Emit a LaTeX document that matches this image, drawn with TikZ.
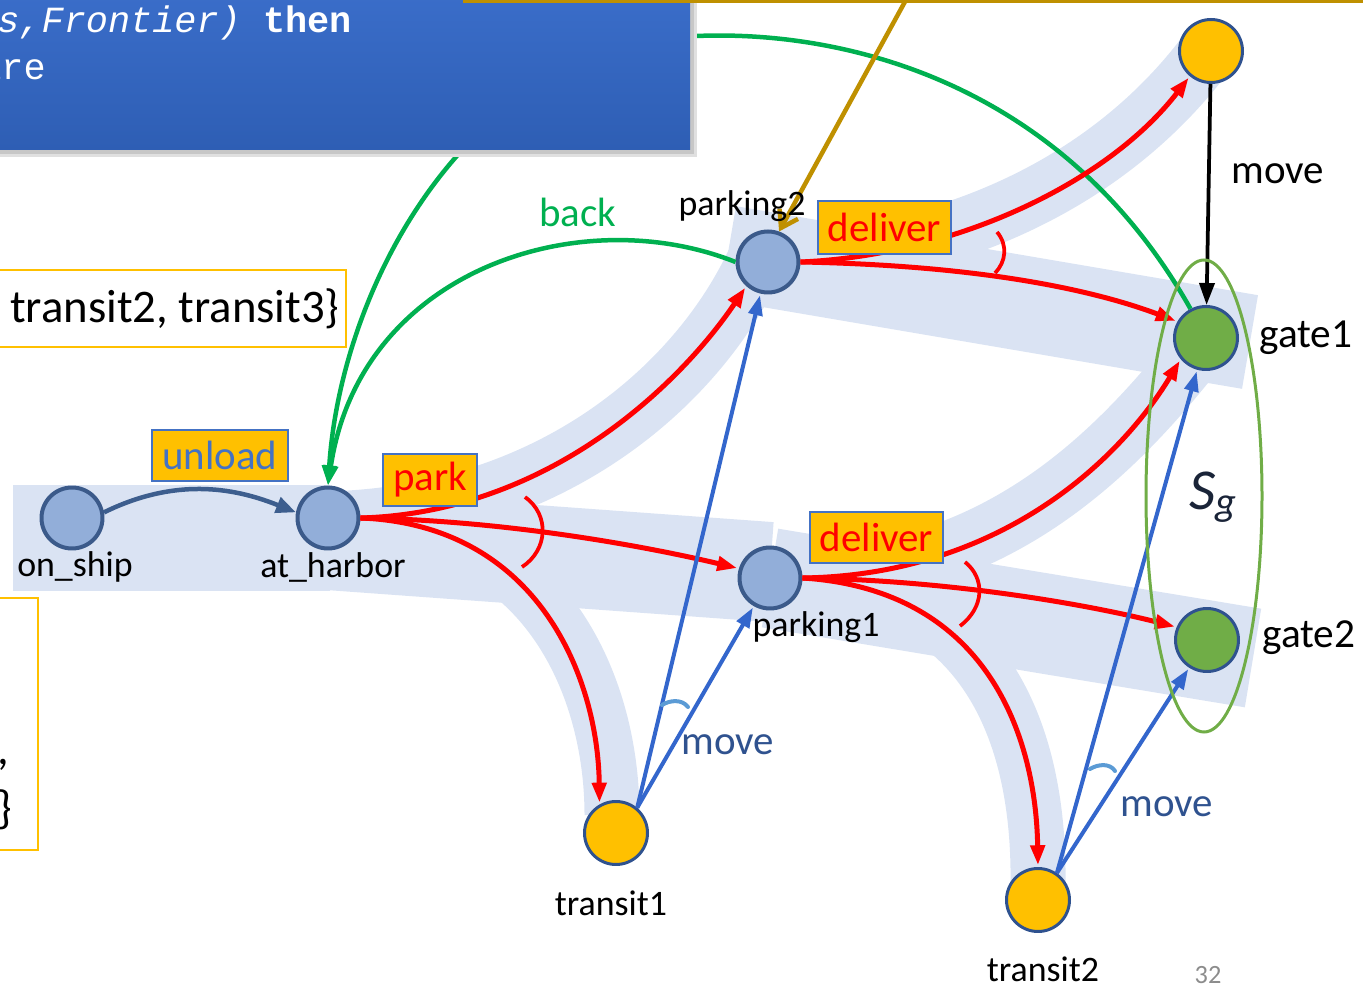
\documentclass[tikz,border=0pt]{standalone}
\usepackage{fontspec}
\setmainfont{Carlito}
\newfontfamily\monof{Liberation Mono}
\usetikzlibrary{arrows.meta}
\definecolor{bandc}{HTML}{DAE3F3}
\definecolor{nfill}{HTML}{92AED9}
\definecolor{nbord}{HTML}{3B5A8A}
\definecolor{nbord2}{HTML}{2F528F}
\definecolor{yel}{HTML}{FFC000}
\definecolor{ngreen}{HTML}{70AD47}
\definecolor{redc}{HTML}{FF0000}
\definecolor{bluec}{HTML}{3366CC}
\definecolor{arcblue}{HTML}{5B9BD5}
\definecolor{unlc}{HTML}{3D5E8E}
\definecolor{actb}{HTML}{4472C4}
\definecolor{movec}{HTML}{2F528F}
\definecolor{greenc}{HTML}{00B050}
\definecolor{goldc}{HTML}{BF9000}
\definecolor{boxtop}{HTML}{3A6DC9}
\definecolor{boxbot}{HTML}{2E5EB4}
\definecolor{pagec}{HTML}{8C8C8C}
\definecolor{sgc}{HTML}{1A2438}
\tikzset{
  band/.style={draw=bandc, line cap=butt},
  sb/.style={circle, fill=nfill, draw=nbord, line width=0.08cm, minimum size=1.22cm, inner sep=0pt},
  sy/.style={circle, fill=yel, draw=nbord2, line width=0.06cm, minimum size=1.26cm, inner sep=0pt},
  sgr/.style={circle, fill=ngreen, draw=nbord2, line width=0.06cm, minimum size=1.26cm, inner sep=0pt},
  lbl/.style={font=\fontsize{20.4}{24}\selectfont, inner sep=0pt},
  glbl/.style={font=\fontsize{23.5}{28}\selectfont, inner sep=0pt},
  biglbl/.style={font=\fontsize{23.3}{28}\selectfont, inner sep=0pt},
  act/.style={fill=yel, draw=actb, line width=0.045cm, inner sep=0pt, font=\fontsize{23.3}{28}\selectfont},
  redE/.style={draw=redc, line width=0.1cm, shorten >=1pt, -{Triangle[length=0.4cm,width=0.28cm]}},
  blueE/.style={draw=bluec, line width=0.08cm, shorten >=1pt, -{Triangle[length=0.4cm,width=0.28cm]}},
  greenE/.style={draw=greenc, line width=0.09cm, -{Triangle[length=0.4cm,width=0.28cm]}},
  andarc/.style={draw=redc, line width=0.075cm},
  movearc/.style={draw=arcblue, line width=0.08cm, line cap=round},
  ybox/.style={draw=yel, fill=white, line width=0.05cm},
}
\begin{document}
\begin{tikzpicture}[x=0.02cm,y=-0.02cm]
\useasboundingbox (0,0) rectangle (1363,989);
\clip (0,0) rectangle (1363,989);

% light blue bands
\fill[bandc] (13,485) rectangle (330,591);
\draw[band, line width=2cm] (300,538) -- (770,572);
\draw[band, line width=2cm] (770,578) -- (1253,658);
\draw[band, line width=1.9cm] (728,253) -- (1250,342);
\draw[band, line width=1.16cm] (340,520) .. controls (560,510) and (700,380) .. (755,262);
\draw[band, line width=1.1cm] (370,525) .. controls (540,530) and (612,680) .. (612,815);
\draw[band, line width=1.16cm] (790,262) .. controls (960,250) and (1110,180) .. (1205,55);
\draw[band, line width=1.16cm] (800,577) .. controls (1000,575) and (1120,450) .. (1205,340);
\draw[band, line width=1.1cm] (800,577) .. controls (990,590) and (1040,740) .. (1038,885);

% left yellow boxes
\draw[ybox] (-5,270) rectangle (346,347);
\node[inner sep=0pt, anchor=east, font=\fontsize{26.6}{30}\selectfont] (tr) at (340,309) {transit2, transit3\}};
\draw[ybox] (-5,598) rectangle (38,850);
\node[inner sep=0pt, anchor=base west, font=\fontsize{26.6}{30}\selectfont] (cm) at (-3,765) {,};
\node[inner sep=0pt, anchor=base west, font=\fontsize{26.6}{30}\selectfont] (br) at (-3,823) {\}};

% states
\node[sb] (os) at (72,518) {};
\node[sb] (ah) at (328,518) {};
\node[sb] (p2) at (768,262) {};
\node[sb] (p1) at (770,578) {};
\node[sy] (t1) at (616,833) {};
\node[sy] (t2) at (1038,900) {};
\node[sy] (t3) at (1211,51) {};
\node[sgr] (g1) at (1206,338) {};
\node[sgr] (g2) at (1207,640) {};

% green back arrows
\draw[greenE] (g1.118) .. controls (1050,60) and (800,20) .. (650,40) .. controls (450,80) and (340,300) .. (ah.north);
\draw[greenE] (p2.west) .. controls (580,200) and (360,270) .. (ah.north);

% blue box with soft shadow
\fill[black!12] (-5,-5) rectangle (697,157);
\fill[black!22] (-5,-5) rectangle (694,154);
\shade[top color=boxtop, bottom color=boxbot] (-5,-5) rectangle (690,150);
\node[inner sep=0pt, anchor=base west, text=white, font=\fontsize{21}{25}\selectfont] (l1) at (-3,33) {\monof\itshape s,Frontier)\upshape\ \bfseries then};
\node[inner sep=0pt, anchor=base west, text=white, font=\fontsize{21}{25}\selectfont] (l2) at (-21,80) {\monof are};

% gold line and arrow
\draw[goldc, line width=0.08cm] (463,1) -- (1370,1);
\coordinate (gs) at (907,-2);
\draw[goldc, line width=0.09cm, -{Straight Barb[length=0.32cm,width=0.42cm]}] (gs) -- (p2.70);

% unload
\draw[unlc, line width=0.09cm, -{Triangle[length=0.4cm,width=0.32cm]}] (os.10) .. controls (180,475) and (240,490) .. (ah.170);

% red edges
\draw[redE] (ah.east) .. controls (560,512) and (690,370) .. (p2.228);
\draw[redE] (ah.east) .. controls (500,520) and (640,545) .. (p1.163);
\draw[redE] (ah.east) .. controls (540,525) and (598,680) .. (t1.120);
\draw[redE] (p2.east) .. controls (960,255) and (1110,180) .. (t3.230);
\draw[redE] (p2.east) .. controls (960,265) and (1080,285) .. (g1.150);
\draw[redE] (p1.east) .. controls (1000,575) and (1120,460) .. (g1.220);
\draw[redE] (p1.east) .. controls (950,580) and (1090,605) .. (g2.157);
\draw[redE] (p1.east) .. controls (990,590) and (1036,740) .. (t2.north);
\draw[andarc] (525,497) .. controls (550,515) and (548,550) .. (522,567);
\draw[andarc] (997,232) .. controls (1008,245) and (1006,262) .. (995,273);
\draw[andarc] (965,562) .. controls (985,578) and (985,607) .. (960,626);

% blue move edges
\draw[blueE] (t1.50) -- (p2);
\draw[blueE] (t1.50) -- (p1);
\draw[blueE] (t2.55) -- (g1);
\draw[blueE] (t2.55) -- (g2);
\draw[movearc] (662,705) .. controls (670,700) and (682,699) .. (688,707);
\draw[movearc] (1090,769) .. controls (1098,764) and (1110,763) .. (1115,771);

% black move
\draw[black, line width=0.075cm, -{Triangle[length=0.44cm,width=0.3cm]}] (t3) -- (g1);

% goal set ellipse
\draw[ngreen, line width=0.06cm] (1204,496) ellipse [x radius=58, y radius=236];
\node[inner sep=0pt, text=sgc] (sg) at (1213,497) {\fontsize{33}{36}\selectfont\textit{S}\textsubscript{\textit{g}}};

% action boxes
\node[act, text=actb, minimum width=2.72cm, minimum height=1.02cm] (unl) at (220,455.5) {unload};
\node[act, text=redc, minimum width=1.88cm, minimum height=1.04cm] (park) at (430,480) {park};
\node[act, text=redc, minimum width=2.66cm, minimum height=1.06cm] (del1) at (884.5,227.5) {deliver};
\node[act, text=redc, minimum width=2.66cm, minimum height=1.02cm] (del2) at (876.5,537.5) {deliver};

% labels
\node[lbl] (los) at (75,567) {on\_ship};
\node[lbl] (lah) at (333,567) {at\_harbor};
\node[lbl] (lp2) at (742,206) {parking2};
\node[lbl] (lp1) at (816,627) {parking1};
\node[lbl] (lt1) at (611,903) {transit1};
\node[lbl] (lt2) at (1043,969) {transit2};
\node[glbl, anchor=west] (lg1) at (1259,338) {gate1};
\node[glbl, anchor=west] (lg2) at (1262,638) {gate2};
\node[biglbl] (mv0) at (1278,174) {move};
\node[biglbl, text=movec] (mv1) at (728,745) {move};
\node[biglbl, text=movec] (mv2) at (1167,807) {move};
\node[biglbl, text=greenc] (bk) at (578,212) {back};
\node[inner sep=0pt, text=pagec, font=\fontsize{15}{18}\selectfont] (pg) at (1208,975) {32};
\end{tikzpicture}
\end{document}
